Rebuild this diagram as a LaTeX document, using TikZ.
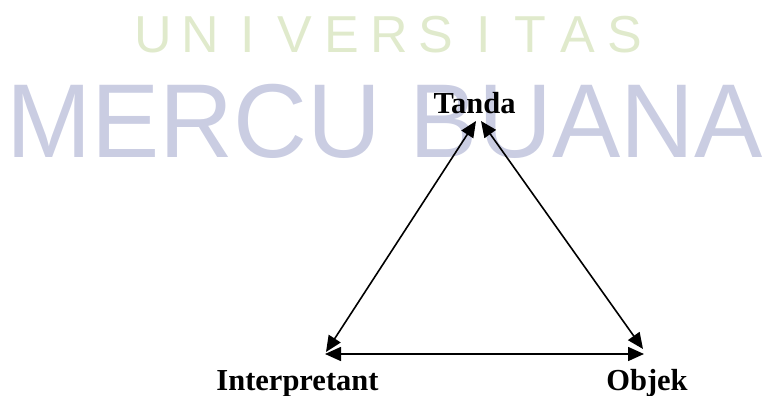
\documentclass[tikz,border=0pt]{standalone}
\usepackage{fontspec}
\setmainfont{Liberation Serif}
\newfontfamily\wmfont{Liberation Sans}
\usetikzlibrary{arrows.meta,positioning}
\definecolor{wmblue}{RGB}{202,205,226}
\definecolor{wmgreen}{RGB}{224,234,204}

\begin{document}
\begin{tikzpicture}[
    x=1pt, y=-1pt,
    >={Triangle[length=16pt,width=14pt]},
    term/.style={font=\fontsize{30.5}{36}\selectfont\bfseries, inner sep=0pt, anchor=base},
    link/.style={<->, line width=1.6pt},
    bigmark/.style={font=\wmfont\fontsize{105}{110}\selectfont, text=wmblue, inner sep=0pt, anchor=base west},
    smallmark/.style={font=\wmfont\fontsize{52}{56}\selectfont, text=wmgreen, inner sep=0pt, anchor=base}
]
    \useasboundingbox (0,0) rectangle (763,396);
    % Watermark
    \node[bigmark, xscale=0.975] (mercu) at (6,157) {MERCU BUANA};
    \foreach \ch [count=\i from 0] in {U,N,I,V,E,R,S,I,T,A,S}
        \node[smallmark] (univ\i) at (153+47.2*\i,53) {\ch};

    % Nodes
    \node[term] (tanda) at (474.5,113) {Tanda};
    \node[term] (interp) at (297.5,390) {Interpretant};
    \node[term] (objek) at (647,390) {Objek};
    \coordinate (tandaL) at (476,121);
    \coordinate (tandaR) at (481,121);
    \coordinate (interpC) at (326,352);
    \coordinate (objekC) at (643,349);
    \coordinate (interpH) at (325,354);
    \coordinate (objekH) at (644,354);

    % Edges
    \draw[link] (interpC) -- (tandaL);
    \draw[link] (tandaR) -- (objekC);
    \draw[link] (interpH) -- (objekH);
\end{tikzpicture}
\end{document}
